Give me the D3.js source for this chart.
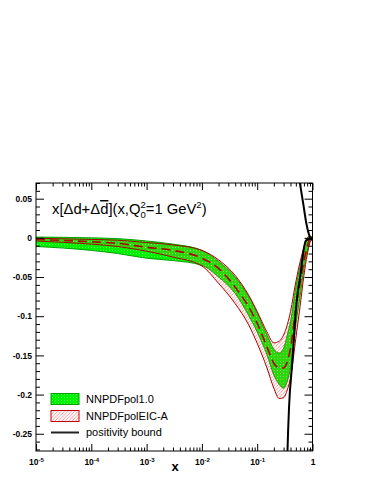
<!DOCTYPE html>
<html><head><meta charset="utf-8">
<script src="https://cdn.jsdelivr.net/npm/d3@7"></script>
<style>
html,body{margin:0;padding:0;background:#fff;}
svg{display:block;font-family:"Liberation Sans",Arial,Helvetica,sans-serif;}
</style></head>
<body>
<svg id="c" width="375" height="485"></svg>
<script>
// ---- data ----
const xs = [1e-5, 1e-4, 3e-4, 1e-3, 3e-3, 0.01, 0.02, 0.04, 0.07, 0.1, 0.15, 0.2, 0.25, 0.3, 0.35, 0.4, 0.5, 0.6, 0.7, 0.8, 0.9, 1];
const pol10Upper = [0.001, 0.000, -0.001, -0.004, -0.008, -0.016, -0.030, -0.050, -0.075, -0.096, -0.124, -0.142, -0.147, -0.141, -0.124, -0.107, -0.063, -0.035, -0.012, 0.000, 0.002, 0];
const pol10Lower = [-0.011, -0.016, -0.020, -0.026, -0.029, -0.035, -0.050, -0.071, -0.099, -0.120, -0.149, -0.175, -0.187, -0.192, -0.183, -0.166, -0.111, -0.073, -0.039, -0.018, -0.004, 0];
const eicUpper = [-0.0005, -0.002, -0.003, -0.006, -0.009, -0.016, -0.028, -0.048, -0.073, -0.094, -0.120, -0.134, -0.132, -0.124, -0.111, -0.094, -0.056, -0.030, -0.012, 0.000, 0.002, 0];
const eicLower = [-0.004, -0.008, -0.011, -0.017, -0.0245, -0.036, -0.058, -0.084, -0.111, -0.1345, -0.166, -0.192, -0.205, -0.204, -0.194, -0.179, -0.128, -0.086, -0.048, -0.022, -0.006, 0];
const eicCentral = [-0.002, -0.005, -0.007, -0.012, -0.016, -0.026, -0.039, -0.063, -0.088, -0.109, -0.139, -0.160, -0.166, -0.166, -0.158, -0.141, -0.090, -0.056, -0.029, -0.012, -0.001, 0];
const posUpperX = [0.547, 0.595, 0.682, 0.776, 0.9, 1];
const posUpperV = [0.085, 0.069, 0.043, 0.018, 0.001, -0.003];
const posLowerX = [0.345, 0.353, 0.376, 0.43, 0.518, 0.6, 0.753, 0.9, 1];
const posLowerV = [-0.30, -0.272, -0.217, -0.160, -0.080, -0.049, -0.004, -0.001, 0];
const yMajorTicks = [-0.25, -0.2, -0.15, -0.1, -0.05, 0, 0.05];
const yTickLabels = ["-0.25", "-0.2", "-0.15", "-0.1", "-0.05", "0", "0.05"];
const xMajorTicks = [1e-5, 1e-4, 1e-3, 1e-2, 1e-1, 1];
const xTickBase = ["10", "10", "10", "10", "10", "1"];
const xTickExp = ["-5", "-4", "-3", "-2", "-1", ""];
const legendLabels = ["NNPDFpol1.0", "NNPDFpolEIC-A", "positivity bound"];

// ---- layout ----
const L = 36, R = 312.5, T = 183, B = 451;
const svg = d3.select("#c");
const x = d3.scaleLog().domain([1e-5, 1]).range([L, R]);
const y = d3.scaleLinear().domain([-0.272, 0.07]).range([B, T]);

const defs = svg.append("defs");
defs.append("clipPath").attr("id", "clip").append("rect")
  .attr("x", L).attr("y", T).attr("width", R - L).attr("height", B - T);
const hatch = defs.append("pattern").attr("id", "hatch").attr("patternUnits", "userSpaceOnUse")
  .attr("width", 3.4).attr("height", 3.4);
hatch.append("path").attr("d", "M-1,1 l2,-2 M0,3.4 l3.4,-3.4 M2.4,4.4 l2,-2")
  .attr("stroke", "#ff4a4a").attr("stroke-width", 0.6);
const gpat = defs.append("pattern").attr("id", "gfill").attr("patternUnits", "userSpaceOnUse")
  .attr("width", 3).attr("height", 3);
gpat.append("rect").attr("width", 3).attr("height", 3).attr("fill", "#00f400");
gpat.append("rect").attr("x", 1).attr("y", 1).attr("width", 1).attr("height", 1).attr("fill", "#66f866");

const idx = d3.range(xs.length);
const area = (lo, hi) => d3.area().x(i => x(xs[i])).y0(i => y(lo[i])).y1(i => y(hi[i])).curve(d3.curveMonotoneX)(idx);
const line = (v) => d3.line().x(i => x(xs[i])).y(i => y(v[i])).curve(d3.curveMonotoneX)(idx);

const plot = svg.append("g").attr("clip-path", "url(#clip)");
plot.append("path").attr("d", area(pol10Lower, pol10Upper)).attr("fill", "url(#gfill)");
plot.append("path").attr("d", line(pol10Upper)).attr("fill", "none").attr("stroke", "#00a000").attr("stroke-width", 1);
plot.append("path").attr("d", line(pol10Lower)).attr("fill", "none").attr("stroke", "#00a000").attr("stroke-width", 1);
plot.append("path").attr("d", area(eicLower, eicUpper)).attr("fill", "url(#hatch)");
plot.append("path").attr("d", line(eicUpper)).attr("fill", "none").attr("stroke", "#a80000").attr("stroke-width", 1);
plot.append("path").attr("d", line(eicLower)).attr("fill", "none").attr("stroke", "#a80000").attr("stroke-width", 1);
plot.append("path").attr("d", line(eicCentral)).attr("fill", "none").attr("stroke", "#b00000")
  .attr("stroke-width", 1.6).attr("stroke-dasharray", "9,5");
const pline = (X, V) => d3.line().x((d, i) => x(X[i])).y((d, i) => y(V[i])).curve(d3.curveMonotoneX)(X);
plot.append("path").attr("d", pline(posUpperX, posUpperV)).attr("fill", "none").attr("stroke", "#000").attr("stroke-width", 2);
plot.append("path").attr("d", pline(posLowerX, posLowerV)).attr("fill", "none").attr("stroke", "#000").attr("stroke-width", 2);

// ---- axes ----
const yMinor = d3.range(-0.27, 0.0701, 0.01).map(v => Math.round(v * 100) / 100).filter(v => !yMajorTicks.some(m => Math.abs(m - v) < 1e-9));
const xMinor = [];
for (let e = -5; e < 0; e++) for (let k = 2; k <= 9; k++) xMinor.push(k * Math.pow(10, e));

function styleAxis(g) {
  g.select(".domain").remove();
  g.selectAll(".tick line").attr("stroke", "#000").attr("stroke-width", 1);
}
// left
svg.append("g").attr("transform", `translate(${L},0)`)
  .call(d3.axisLeft(y).tickValues(yMajorTicks).tickSize(-8).tickPadding(4)
    .tickFormat((d, i) => yTickLabels[i]))
  .call(styleAxis)
  .call(g => g.selectAll("text").attr("font-size", 8.5).attr("font-weight", "bold").attr("fill", "#000").attr("font-family", "Liberation Sans, Arial, sans-serif"));
svg.append("g").attr("transform", `translate(${L},0)`)
  .call(d3.axisLeft(y).tickValues(yMinor).tickSize(-4).tickFormat(""))
  .call(styleAxis);
// right
svg.append("g").attr("transform", `translate(${R},0)`)
  .call(d3.axisRight(y).tickValues(yMajorTicks).tickSize(-8).tickFormat(""))
  .call(styleAxis);
svg.append("g").attr("transform", `translate(${R},0)`)
  .call(d3.axisRight(y).tickValues(yMinor).tickSize(-4).tickFormat(""))
  .call(styleAxis);
// bottom
const bx = svg.append("g").attr("transform", `translate(0,${B})`)
  .call(d3.axisBottom(x).tickValues(xMajorTicks).tickSize(-7).tickPadding(6).tickFormat(""))
  .call(styleAxis);
bx.selectAll(".tick text").each(function (d, i) {
  const t = d3.select(this).attr("font-size", 8.5).attr("font-weight", "bold").attr("fill", "#000")
    .attr("font-family", "Liberation Sans, Arial, sans-serif").attr("dy", "0.9em");
  t.append("tspan").text(xTickBase[i]);
  if (xTickExp[i]) t.append("tspan").attr("font-size", 6).attr("dy", "-0.5em").text(xTickExp[i]);
});
svg.append("g").attr("transform", `translate(0,${B})`)
  .call(d3.axisBottom(x).tickValues(xMinor).tickSize(-3.5).tickFormat(""))
  .call(styleAxis);
// top
svg.append("g").attr("transform", `translate(0,${T})`)
  .call(d3.axisTop(x).tickValues(xMajorTicks).tickSize(-7).tickFormat(""))
  .call(styleAxis);
svg.append("g").attr("transform", `translate(0,${T})`)
  .call(d3.axisTop(x).tickValues(xMinor).tickSize(-3.5).tickFormat(""))
  .call(styleAxis);
// frame
svg.append("rect").attr("x", L).attr("y", T).attr("width", R - L).attr("height", B - T)
  .attr("fill", "none").attr("stroke", "#000").attr("stroke-width", 1);

// axis title
svg.append("text").attr("x", 175).attr("y", 471).attr("text-anchor", "middle")
  .attr("font-size", 13).attr("font-weight", "bold").text("x");

// plot title
const tt = svg.append("text").attr("x", 52).attr("y", 214).attr("font-size", 14.8).attr("fill", "#000");
tt.append("tspan").text("x[Δd+Δ");
tt.append("tspan").attr("text-decoration", "overline").text("d");
tt.append("tspan").text("](x,Q");
tt.append("tspan").attr("font-size", 9.5).attr("dy", -6).text("2");
tt.append("tspan").attr("font-size", 9.5).attr("dx", -5.3).attr("dy", 10).text("0");
tt.append("tspan").attr("dy", -4).text("=1 GeV");
tt.append("tspan").attr("font-size", 9.5).attr("dy", -6).text("2");
tt.append("tspan").attr("dy", 6).text(")");

// legend
const lg = svg.append("g");
lg.append("rect").attr("x", 51).attr("y", 393.5).attr("width", 28).attr("height", 11)
  .attr("fill", "url(#gfill)").attr("stroke", "#00a000").attr("stroke-width", 1);
lg.append("rect").attr("x", 51).attr("y", 410.5).attr("width", 28).attr("height", 11)
  .attr("fill", "url(#hatch)").attr("stroke", "#c00000").attr("stroke-width", 1);
lg.append("line").attr("x1", 51).attr("x2", 79).attr("y1", 432.5).attr("y2", 432.5)
  .attr("stroke", "#222").attr("stroke-width", 2);
const ly = [399.5, 416, 432.5];
legendLabels.forEach((s, i) => {
  lg.append("text").attr("x", 86).attr("y", ly[i]).attr("dy", "0.35em").attr("font-size", 11).attr("fill", "#000").text(s);
});
</script>
</body></html>
